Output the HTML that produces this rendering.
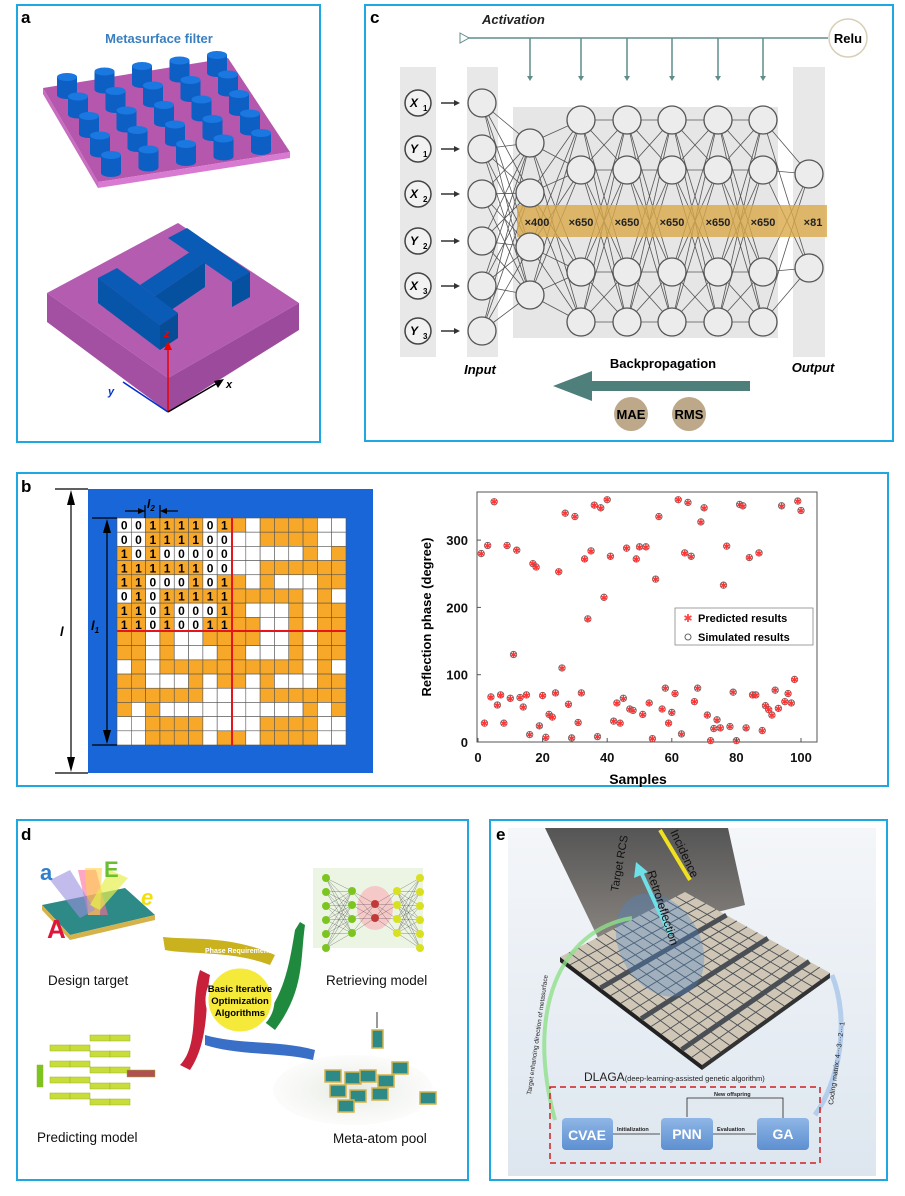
<!DOCTYPE html>
<html><head><meta charset="utf-8"><style>
html,body{margin:0;padding:0;background:#fff;}
svg{display:block;font-family:"Liberation Sans",sans-serif;}
</style></head><body>
<svg id="s" width="905" height="1196" viewBox="0 0 905 1196" xmlns="http://www.w3.org/2000/svg">
<defs>
<linearGradient id="eg" x1="0" y1="0" x2="0" y2="1"><stop offset="0" stop-color="#f4f6f9"/><stop offset="1" stop-color="#dde6ef"/></linearGradient>
<linearGradient id="scr" x1="0" y1="0" x2="0" y2="1"><stop offset="0" stop-color="#555"/><stop offset="1" stop-color="#8a8580"/></linearGradient>
<linearGradient id="bx" x1="0" y1="0" x2="0" y2="1"><stop offset="0" stop-color="#8fb6e6"/><stop offset="1" stop-color="#5d8fd0"/></linearGradient>
<radialGradient id="pool"><stop offset="0" stop-color="#e4e8e0"/><stop offset="1" stop-color="#f3f5f1" stop-opacity="0.3"/></radialGradient>
</defs>
<g fill="none" stroke="#1ea7e0" stroke-width="2">
<rect x="17" y="5" width="303" height="437"/>
<rect x="365" y="5" width="528" height="436"/>
<rect x="17" y="473" width="871" height="313"/>
<rect x="17" y="820" width="451" height="360"/>
<rect x="490" y="820" width="397" height="360"/>
</g>
<g font-weight="bold" font-size="17" fill="#000">
<text x="21" y="23">a</text><text x="370" y="23">c</text><text x="21" y="492">b</text><text x="21" y="840">d</text><text x="496" y="840">e</text>
</g>

<!-- PANEL A -->
<text x="159" y="43" text-anchor="middle" font-size="13" font-weight="bold" fill="#3a7fc0">Metasurface filter</text>
<polygon points="43,88 228,58 290,152 98,182" fill="#b557ac"/>
<polygon points="43,88 98,182 98,188 43,94" fill="#c86cc0"/>
<polygon points="98,182 290,152 290,158 98,188" fill="#d97ad2"/>
<g id="cyl"></g>
<polygon points="47,293 178,223 299,303 168,378" fill="#b45cb0"/>
<polygon points="47,293 168,378 168,412 47,322" fill="#a34fa2"/>
<polygon points="168,378 299,303 299,330 168,412" fill="#9c4b9c"/>
<!-- H shape: right bar -->
<polygon points="232,282 250,272 250,297 232,307" fill="#0650a0"/>
<polygon points="168,238 187,228 250,272 232,282" fill="#0a5bb5"/>
<!-- crossbar -->
<polygon points="155,296 205,262 205,287 155,321" fill="#0650a0"/>
<polygon points="140,285 190,252 205,262 155,296" fill="#0a5bb5"/>
<!-- left bar -->
<polygon points="98,278 160,325 160,350 98,303" fill="#0755a8"/>
<polygon points="160,325 178,313 178,338 160,350" fill="#064c96"/>
<polygon points="98,278 117,268 178,313 160,325" fill="#0a5bb5"/>
<line x1="168" y1="412" x2="168" y2="345" stroke="#e00" stroke-width="1.5"/>
<polygon points="164,350 168,341 172,350" fill="#e00"/>
<text x="164" y="337" font-size="11" font-weight="bold" font-style="italic" fill="#e00">z</text>
<line x1="168" y1="412" x2="123" y2="382" stroke="#0030d0" stroke-width="1.5"/>
<text x="108" y="395" font-size="11" font-weight="bold" font-style="italic" fill="#0030d0">y</text>
<line x1="168" y1="412" x2="221" y2="381" stroke="#000" stroke-width="1.5"/>
<polygon points="224,379 214,381 218,388" fill="#000"/>
<text x="226" y="388" font-size="11" font-weight="bold" font-style="italic">x</text>

<!-- PANEL C -->
<rect x="400" y="67" width="36" height="290" fill="#e8e8e8"/>
<rect x="467" y="67" width="31" height="290" fill="#e8e8e8"/>
<rect x="513" y="107" width="265" height="231" fill="#e6e6e6"/>
<rect x="793" y="67" width="32" height="290" fill="#e8e8e8"/>
<g id="net" stroke="#555" stroke-width="0.8" fill="none"></g>
<rect x="517" y="205" width="310" height="32" fill="#d9a94a" opacity="0.8"/>
<g id="netc"></g>
<g font-size="11" font-weight="bold" fill="#222" text-anchor="middle">
<text x="537" y="226">×400</text><text x="581" y="226">×650</text><text x="627" y="226">×650</text><text x="672" y="226">×650</text><text x="718" y="226">×650</text><text x="763" y="226">×650</text><text x="813" y="226">×81</text>
</g>
<text x="482" y="24" font-size="13" font-weight="bold" font-style="italic" fill="#222">Activation</text>
<line x1="462" y1="38" x2="828" y2="38" stroke="#5e8e8a" stroke-width="1.5"/>
<polygon points="460,33 469,38 460,43" fill="#fff" stroke="#5e8e8a"/>
<circle cx="848" cy="38" r="19" fill="#fff" stroke="#d8cfb8" stroke-width="1.5"/>
<text x="848" y="43" font-size="13" font-weight="bold" text-anchor="middle">Relu</text>
<g id="act"></g>
<text x="480" y="374" font-size="13" font-weight="bold" font-style="italic" text-anchor="middle">Input</text>
<text x="813" y="372" font-size="13" font-weight="bold" font-style="italic" text-anchor="middle">Output</text>
<text x="663" y="368" font-size="13" font-weight="bold" text-anchor="middle">Backpropagation</text>
<rect x="590" y="381" width="160" height="10" fill="#4f7f7b"/>
<polygon points="553,386 592,371 592,401" fill="#4f7f7b"/>
<circle cx="631" cy="414" r="17" fill="#bda98a"/><circle cx="689" cy="414" r="17" fill="#bda98a"/>
<text x="631" y="419" font-size="13" font-weight="bold" text-anchor="middle">MAE</text>
<text x="689" y="419" font-size="13" font-weight="bold" text-anchor="middle">RMS</text>

<!-- PANEL B -->
<rect x="88" y="489" width="285" height="284" fill="#1866d8"/>
<g id="grid"></g>
<line x1="232" y1="518" x2="232" y2="745" stroke="#e8141c" stroke-width="2"/>
<line x1="117" y1="631" x2="346" y2="631" stroke="#e8141c" stroke-width="2"/>
<g stroke="#000" stroke-width="1.2">
<line x1="55" y1="489" x2="88" y2="489"/><line x1="55" y1="773" x2="88" y2="773"/>
<line x1="71" y1="495" x2="71" y2="767"/>
<line x1="92" y1="518" x2="117" y2="518"/><line x1="92" y1="745" x2="117" y2="745"/>
<line x1="107" y1="524" x2="107" y2="739"/>
<line x1="125" y1="511" x2="145" y2="511"/><line x1="164" y1="511" x2="178" y2="511"/>
<line x1="145" y1="505" x2="145" y2="518"/><line x1="160" y1="505" x2="160" y2="518"/>
</g>
<g fill="#000">
<polygon points="71,490 67,505 75,505"/><polygon points="71,772 67,757 75,757"/>
<polygon points="107,519 103,533 111,533"/><polygon points="107,744 103,730 111,730"/>
<polygon points="145,511 138,508 138,514"/><polygon points="160,511 167,508 167,514"/>
</g>
<text x="60" y="636" font-size="13" font-weight="bold" font-style="italic">l</text>
<text x="91" y="630" font-size="13" font-weight="bold" font-style="italic">l<tspan font-size="8" dy="3">1</tspan></text>
<text x="147" y="508" font-size="12" font-weight="bold" font-style="italic">l<tspan font-size="8" dy="3">2</tspan></text>

<rect x="477" y="492" width="340" height="250" fill="#fff" stroke="#555" stroke-width="1"/>
<g id="sc"></g>
<g font-size="13" font-weight="bold" fill="#111" text-anchor="middle" id="ticks"></g>
<text transform="translate(431,617) rotate(-90)" font-size="13" font-weight="bold" text-anchor="middle">Reflection phase (degree)</text>
<text x="638" y="784" font-size="14" font-weight="bold" text-anchor="middle">Samples</text>
<rect x="675" y="608" width="138" height="37" fill="#fff" stroke="#888" stroke-width="0.8"/>
<text x="688" y="622" font-size="11" fill="#f44" text-anchor="middle">✱</text>
<circle cx="688" cy="637" r="3" fill="none" stroke="#666"/>
<text x="698" y="622" font-size="11" font-weight="bold">Predicted results</text>
<text x="698" y="641" font-size="11" font-weight="bold">Simulated results</text>

<!-- PANEL D -->
<polygon points="42,905 125,888 155,915 70,935" fill="#2d8a86"/>
<polygon points="42,905 70,935 70,940 42,910" fill="#d6b24a"/>
<polygon points="70,935 155,915 155,920 70,940" fill="#d6b24a"/>
<polygon points="78,870 96,870 108,915 88,915" fill="#ff6b9a" opacity="0.6"/>
<polygon points="85,868 102,868 100,915 88,915" fill="#ffd24a" opacity="0.6"/>
<polygon points="50,880 70,870 95,910 80,918" fill="#9a8fe0" opacity="0.6"/>
<polygon points="110,870 128,878 100,910 90,905" fill="#e6f050" opacity="0.7"/>
<text x="40" y="880" font-size="22" font-weight="bold" fill="#2f7fcc">a</text>
<text x="47" y="938" font-size="26" font-weight="bold" fill="#e0143c">A</text>
<text x="104" y="877" font-size="22" font-weight="bold" fill="#6abe32">E</text>
<text x="141" y="905" font-size="22" font-weight="bold" font-style="italic" fill="#f0e010">e</text>
<path d="M163,937 C190,940 230,935 275,955 L270,965 C230,950 190,955 165,950 Z" fill="#c9b21e"/>
<path d="M300,922 L305,925 C300,960 305,990 275,1030 L262,1020 C285,995 290,960 295,930 Z" fill="#1f8a3e"/>
<path d="M180,1065 C200,1045 190,1000 200,970 L210,975 C205,1000 210,1040 190,1070 Z" fill="#c8203a"/>
<path d="M205,1035 C240,1045 280,1040 315,1050 L313,1060 C280,1052 240,1056 205,1045 Z" fill="#3a6fc8"/>
<circle cx="240" cy="1000" r="33" fill="#f5e93a" stroke="#fff" stroke-width="3"/>
<g font-size="9.5" font-weight="bold" text-anchor="middle"><text x="240" y="992">Basic Iterative</text><text x="240" y="1004">Optimization</text><text x="240" y="1016">Algorithms</text></g>
<text x="205" y="953" font-size="7" font-weight="bold" fill="#fff">Phase Requirement</text>
<g id="dnet"></g>
<g fill="#c8dd3a" stroke="#9cb022" stroke-width="0.5" id="pred"></g>
<ellipse cx="353" cy="1090" rx="80" ry="35" fill="url(#pool)"/>
<g id="tiles"></g>
<g font-size="13.5" fill="#111">
<text x="48" y="985">Design target</text>
<text x="326" y="985">Retrieving model</text>
<text x="37" y="1142">Predicting model</text>
<text x="333" y="1143">Meta-atom pool</text>
</g>

<!-- PANEL E -->
<rect x="508" y="828" width="368" height="348" fill="url(#eg)"/>
<polygon points="545,828 728,828 745,905 600,942" fill="url(#scr)"/>
<polygon points="560,957 685,892 830,973 702,1065" fill="#cfc6b6"/>
<polygon points="560,957 702,1065 702,1070 560,962" fill="#222"/>
<polygon points="702,1065 830,973 830,978 702,1070" fill="#333"/>
<g id="egrid" stroke="#4a4f55" stroke-width="0.9"></g>
<ellipse cx="660" cy="945" rx="40" ry="55" fill="#4a88c8" opacity="0.35" transform="rotate(-30 660 945)"/>
<line x1="670" y1="935" x2="640" y2="870" stroke="#6de0e8" stroke-width="4"/>
<polygon points="636,862 634,878 648,872" fill="#6de0e8"/>
<line x1="660" y1="830" x2="690" y2="880" stroke="#f0e020" stroke-width="4"/>
<text transform="translate(618,892) rotate(-80)" font-size="11" fill="#111">Target RCS</text>
<text transform="translate(647,872) rotate(72)" font-size="12" fill="#111">Retroreflection</text>
<text transform="translate(670,832) rotate(65)" font-size="12" fill="#111">Incidence</text>
<path d="M632,918 C560,930 525,1010 555,1120" fill="none" stroke="#8fe08a" stroke-width="4" opacity="0.8"/>
<path d="M815,1115 C840,1080 850,1020 832,975" fill="none" stroke="#a8c6ea" stroke-width="5" opacity="0.8"/>
<text transform="translate(531,1095) rotate(-82)" font-size="6.5" fill="#222">Target enhancing direction of metasurface</text>
<text transform="translate(833,1105) rotate(-82)" font-size="7" fill="#222">Coding matrix: 4···3···2···1</text>
<text x="584" y="1081" font-size="12" fill="#222">DLAGA<tspan font-size="7.5">(deep-learning-assisted genetic algorithm)</tspan></text>
<rect x="550" y="1087" width="270" height="76" fill="none" stroke="#d02020" stroke-width="1.5" stroke-dasharray="6,4"/>
<rect x="562" y="1118" width="51" height="32" rx="4" fill="url(#bx)"/>
<rect x="661" y="1118" width="52" height="32" rx="4" fill="url(#bx)"/>
<rect x="757" y="1118" width="52" height="32" rx="4" fill="url(#bx)"/>
<g font-size="14" font-weight="bold" fill="#fff" text-anchor="middle"><text x="587" y="1140">CVAE</text><text x="687" y="1139">PNN</text><text x="783" y="1139">GA</text></g>
<g stroke="#222" stroke-width="0.8" fill="none"><line x1="613" y1="1134" x2="660" y2="1134"/><line x1="713" y1="1134" x2="756" y2="1134"/><polyline points="783,1118 783,1098 687,1098 687,1117"/></g>
<g font-size="5.5" font-weight="bold" fill="#222"><text x="617" y="1131">Initialization</text><text x="717" y="1131">Evaluation</text><text x="714" y="1096">New offspring</text></g>
</svg>
<script>
var NS="http://www.w3.org/2000/svg";
function el(p,t,a,txt){var e=document.createElementNS(NS,t);for(var k in a)e.setAttribute(k,a[k]);if(txt!=null)e.textContent=txt;document.getElementById(p).appendChild(e);return e;}
var cyl=[];for(var i=0;i<5;i++)for(var j=0;j<5;j++){var x=67+i*37.5+j*11,y=77-i*5.5+j*19.5;cyl.push([x,y]);}
cyl.sort(function(a,b){return a[1]-b[1];});
cyl.forEach(function(c){var x=c[0],y=c[1];el("cyl","rect",{x:x-10,y:y,width:20,height:18,fill:"#0d5fc4"});el("cyl","ellipse",{cx:x,cy:y+18,rx:10,ry:4,fill:"#0d5fc4"});el("cyl","ellipse",{cx:x,cy:y,rx:10,ry:4,fill:"#1a78e0"});});
var q=["00111101","00111100","10100000","11111100","11000101","01011111","11010001","11010011"];
var cw=(346-117)/16,ch=(745-518)/16;
for(var r=0;r<16;r++)for(var c=0;c<16;c++){var rr=r<8?r:15-r,cc=c<8?c:15-c;var v=q[rr][cc];
el("grid","rect",{x:117+c*cw,y:518+r*ch,width:cw,height:ch,fill:v=="1"?"#f7a828":"#fff",stroke:"#555","stroke-width":0.6});
if(r<8&&c<8)el("grid","text",{x:117+c*cw+cw/2,y:518+r*ch+ch-2.5,"font-size":12,"font-weight":"bold","text-anchor":"middle"},v);}
var d=[280,28,292,67,357,55,70,28,292,65,130,285,66,52,70,11,265,260,24,69,7,41,37,73,253,110,340,56,6,335,29,73,272,183,284,352,8,348,215,360,276,31,58,28,65,288,49,47,272,290,41,290,58,5,242,335,49,80,28,44,72,360,12,281,356,276,60,80,327,348,40,2,20,33,21,233,291,23,74,2,353,351,21,274,70,70,281,17,54,48,40,77,50,351,60,72,58,93,358,344];
d.forEach(function(v,i){var x=478+(i+1)*3.23,y=742-v*0.673;el("sc","circle",{cx:x,cy:y,r:3.2,fill:"none",stroke:"#666","stroke-width":0.9});
el("sc","text",{x:x,y:y+3.5,"font-size":9,fill:"#f33","text-anchor":"middle"},"✱");});
[0,100,200,300].forEach(function(v){var y=742-v*0.673;el("ticks","text",{x:468,y:y+5,"text-anchor":"end"},v);el("sc","line",{x1:477,y1:y,x2:481,y2:y,stroke:"#555"});});
[0,20,40,60,80,100].forEach(function(v){var x=478+v*3.23;el("ticks","text",{x:x,y:762},v);el("sc","line",{x1:x,y1:742,x2:x,y2:738,stroke:"#555"});});
var L=[[482,[103,149,194,241,286,331]],[530,[143,193,247,295]]];
[581,627,672,718,763].forEach(function(x){L.push([x,[120,170,272,322]]);});
L.push([809,[174,268]]);
for(var k=0;k<L.length-1;k++){L[k][1].forEach(function(a){L[k+1][1].forEach(function(b){el("net","line",{x1:L[k][0],y1:a,x2:L[k+1][0],y2:b});});});}
L.forEach(function(l){l[1].forEach(function(y){el("netc","circle",{cx:l[0],cy:y,r:14,fill:"#ececec",stroke:"#555","stroke-width":1.3});});});
var lab=["X","Y","X","Y","X","Y"],sub=["1","1","2","2","3","3"];
L[0][1].forEach(function(y,i){el("netc","circle",{cx:418,cy:y,r:13,fill:"#f2f2f2",stroke:"#444","stroke-width":1.5});
el("netc","text",{x:414,y:y+4,"font-size":12,"font-weight":"bold","font-style":"italic","text-anchor":"middle"},lab[i]);
el("netc","text",{x:423,y:y+8,"font-size":8,"font-weight":"bold"},sub[i]);
el("netc","line",{x1:441,y1:y,x2:456,y2:y,stroke:"#333","stroke-width":1.5});el("netc","polygon",{points:"460,"+y+" 454,"+(y-3)+" 454,"+(y+3),fill:"#333"});});
[530,581,627,672,718,763].forEach(function(x){el("act","line",{x1:x,y1:38,x2:x,y2:78,stroke:"#5e8e8a","stroke-width":1.5});el("act","polygon",{points:(x-3)+",76 "+(x+3)+",76 "+x+",81",fill:"#5e8e8a"});});
el("dnet","rect",{x:313,y:868,width:110,height:80,fill:"#ecf5e4"});
el("dnet","ellipse",{cx:375,cy:908,rx:18,ry:22,fill:"#f6c9c9"});
var dl=[[326,[878,892,906,920,934,948]],[352,[891,905,919,933]],[375,[904,918]],[397,[891,905,919,933]],[420,[878,892,906,920,934,948]]];
for(var k=0;k<4;k++)dl[k][1].forEach(function(a){dl[k+1][1].forEach(function(b){el("dnet","line",{x1:dl[k][0],y1:a,x2:dl[k+1][0],y2:b,stroke:"#444","stroke-width":0.3});});});
dl.forEach(function(l,k){l[1].forEach(function(y){el("dnet","circle",{cx:l[0],cy:y,r:4,fill:k<2?"#7cc520":(k==2?"#c03a3a":"#d8e020")});});});
el("pred","rect",{x:37,y:1065,width:6,height:22,fill:"#7cc520"});
for(var c=0;c<4;c++)for(var r=0;r<4+(c>1?1:0);r++)el("pred","rect",{x:50+c*20,y:1035+r*16+(c<2?10:0),width:20,height:6});
el("pred","rect",{x:127,y:1070,width:28,height:7,fill:"#b05050"});
[[325,1070],[345,1072],[360,1070],[378,1075],[330,1085],[350,1090],[372,1088],[392,1062],[420,1092],[338,1100]].forEach(function(t){el("tiles","rect",{x:t[0],y:t[1],width:16,height:12,fill:"#2d8a86",stroke:"#d6b24a","stroke-width":1.5});});
el("tiles","rect",{x:372,y:1030,width:11,height:18,fill:"#2d8a86",stroke:"#d6b24a","stroke-width":1.5});
el("tiles","line",{x1:377,y1:1012,x2:377,y2:1028,stroke:"#999","stroke-width":2});
function lerp(a,b,t){return [a[0]+(b[0]-a[0])*t,a[1]+(b[1]-a[1])*t];}
var A=[560,957],B=[685,892],C=[830,973],D=[702,1065];
for(var i=1;i<14;i++){var p=lerp(A,B,i/14),q2=lerp(D,C,i/14);el("egrid","line",{x1:p[0],y1:p[1],x2:q2[0],y2:q2[1]});}
for(var i=1;i<14;i++){var p=lerp(A,D,i/14),q2=lerp(B,C,i/14);el("egrid","line",{x1:p[0],y1:p[1],x2:q2[0],y2:q2[1],"stroke-width":(i%4==0?5:0.9)});}
</script>
</body></html>
